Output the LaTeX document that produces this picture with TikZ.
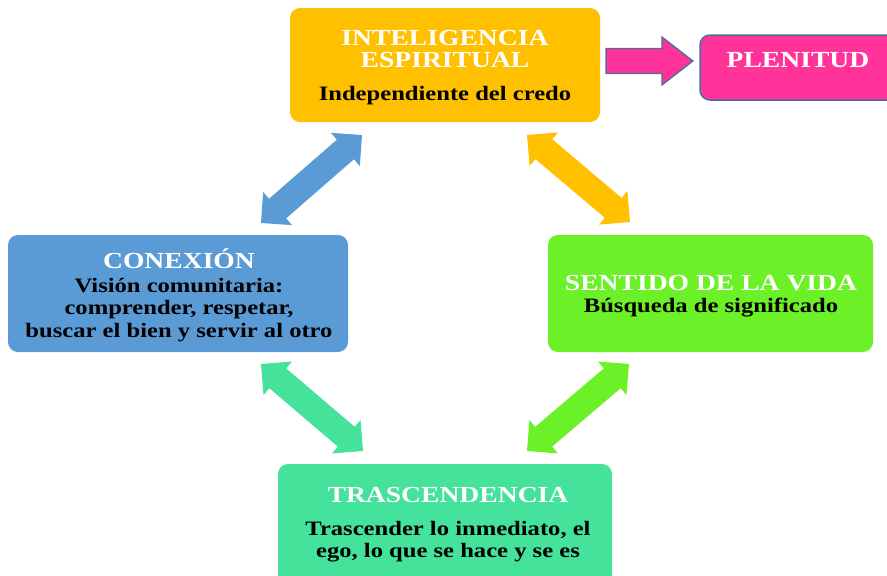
\documentclass[tikz,border=0pt]{standalone}
\usepackage{fontspec}
\setmainfont{Liberation Serif}[FakeStretch=1.2]
\usetikzlibrary{calc}
\definecolor{cOrange}{RGB}{255,192,0}
\definecolor{cBlue}{RGB}{91,155,213}
\definecolor{cGreen}{RGB}{108,240,40}
\definecolor{cTeal}{RGB}{68,226,155}
\definecolor{cPink}{RGB}{255,51,153}
\definecolor{cBorder}{RGB}{65,113,156}
\newcommand\ttlfont{\color{white}\fontsize{23}{23}\selectfont}
% double block arrow between two named coordinates: #1 end, #2 other end, #3 colour
\newcommand\dblarr[3]{%
  \fill[#3]
    (#1)
    -- ($(#1)!22pt!(#2)!22pt!90:(#2)$)
    -- ($(#1)!22pt!(#2)!13pt!90:(#2)$)
    -- ($(#2)!22pt!(#1)!13pt!-90:(#1)$)
    -- ($(#2)!22pt!(#1)!22pt!-90:(#1)$)
    -- (#2)
    -- ($(#2)!22pt!(#1)!22pt!90:(#1)$)
    -- ($(#2)!22pt!(#1)!13pt!90:(#1)$)
    -- ($(#1)!22pt!(#2)!13pt!-90:(#2)$)
    -- ($(#1)!22pt!(#2)!22pt!-90:(#2)$)
    -- cycle;}
\begin{document}
\begin{tikzpicture}[x=1pt,y=-1pt,
  boxstyle/.style={rounded corners=10pt, inner sep=0pt},
  lbl/.style={anchor=base, inner sep=0pt, font=\bfseries\fontsize{20.5}{22.5}\selectfont}]
\clip (0,0) rectangle (887,576);
% boxes
\node[boxstyle, fill=cOrange, minimum width=310pt, minimum height=114pt] (intel) at (445,65) {};
\node[boxstyle, fill=cBlue, minimum width=340pt, minimum height=117pt] (conex) at (178,293.5) {};
\node[boxstyle, fill=cGreen, minimum width=325pt, minimum height=117pt] (sentido) at (710.5,293.5) {};
\node[boxstyle, fill=cTeal, minimum width=334pt, minimum height=126pt] (trasc) at (445,527) {};
\node[boxstyle, fill=cPink, draw=cBorder, line width=1.5pt, minimum width=200pt, minimum height=65pt] (pleni) at (800,67.5) {};
% texts
\node[lbl] (intelT) at (445,45) {\begin{tabular}[t]{@{}c@{}}\ttlfont INTELIGENCIA\\ \ttlfont ESPIRITUAL\\[10.5pt] Independiente del credo\end{tabular}};
\node[lbl] (conexT) at (179,268) {\begin{tabular}[t]{@{}c@{}}\ttlfont CONEXIÓN\\[1.5pt] Visión comunitaria:\\ comprender, respetar,\\ buscar el bien y servir al otro\end{tabular}};
\node[lbl] (sentidoT) at (711,290) {\begin{tabular}[t]{@{}c@{}}\ttlfont SENTIDO DE LA VIDA\\ Búsqueda de significado\end{tabular}};
\node[lbl] (trascT) at (448,502) {\begin{tabular}[t]{@{}c@{}}\ttlfont TRASCENDENCIA\\[10.5pt] Trascender lo inmediato, el\\ ego, lo que se hace y se es\end{tabular}};
\node[lbl] (pleniT) at (798,67) {\ttlfont PLENITUD};
% double arrows
\coordinate (a1) at (261,223); \coordinate (a2) at (362,135);
\coordinate (b1) at (527,135); \coordinate (b2) at (630,222);
\coordinate (c1) at (261,364); \coordinate (c2) at (363,451);
\coordinate (d1) at (527,451); \coordinate (d2) at (629,364);
\dblarr{a1}{a2}{cBlue}
\dblarr{b1}{b2}{cOrange}
\dblarr{c1}{c2}{cTeal}
\dblarr{d1}{d2}{cGreen}
% plenitud arrow
\coordinate (p1) at (606,61); \coordinate (p2) at (693,61);
\draw[cBorder, fill=cPink, line width=1.2pt, line join=miter]
  ($(p1)+(0,-12.5)$) -- ($(p2)+(-31,-12.5)$) -- ($(p2)+(-31,-24)$) -- (p2)
  -- ($(p2)+(-31,24)$) -- ($(p2)+(-31,12.5)$) -- ($(p1)+(0,12.5)$) -- cycle;
\end{tikzpicture}
\end{document}
